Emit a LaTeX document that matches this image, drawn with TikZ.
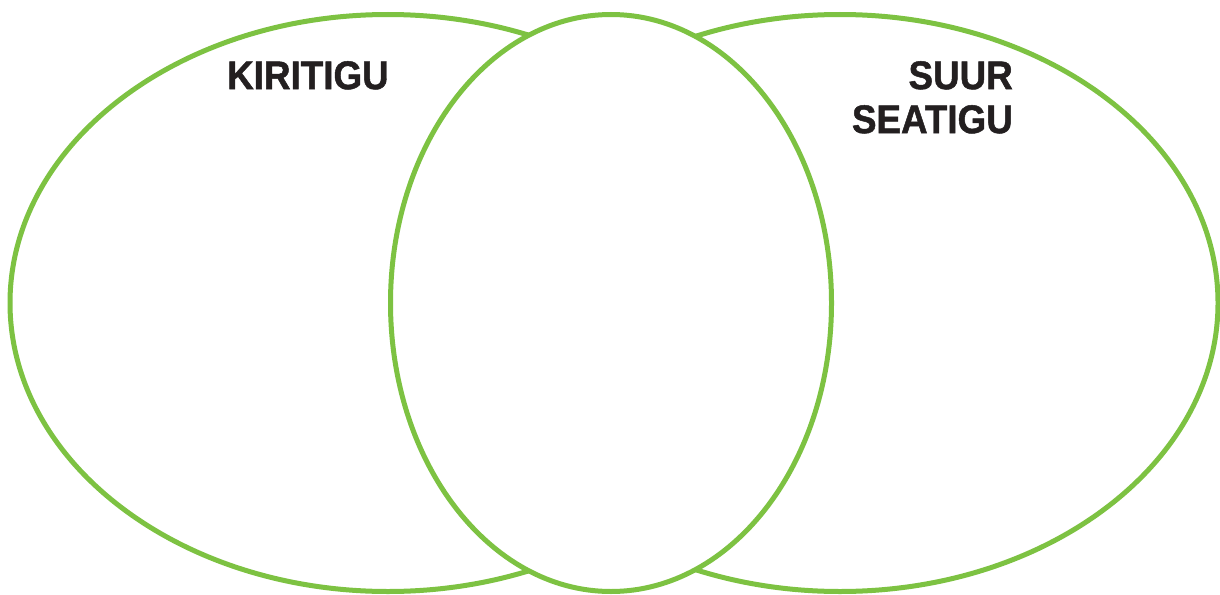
\documentclass[tikz,border=0pt]{standalone}
\usepackage{fontspec}
\setmainfont{Liberation Sans}[FakeStretch=0.92,BoldFeatures={FakeBold=1.2}]
\usetikzlibrary{shapes.geometric}
\definecolor{vgreen}{HTML}{7DC242}
\definecolor{vtext}{HTML}{231F20}
\tikzset{
  circ/.style={ellipse, draw=vgreen, line width=5pt, fill=white, inner sep=0pt, minimum height=577pt},
  lbl/.style={text=vtext, font=\fontsize{40}{44}\selectfont\bfseries, inner sep=0pt}
}
\begin{document}
\begin{tikzpicture}[x=1pt,y=-1pt]
\useasboundingbox (0,0) rectangle (1220,594);
\node[circ, minimum width=756pt] (left) at (388,303) {};
\node[circ, minimum width=756pt] (right) at (840,303) {};
\node[circ, minimum width=441pt] (mid) at (611,303) {};
\node[lbl, anchor=north west] (k) at (227,61) {KIRITIGU};
\node[lbl, anchor=north east, align=right] (s) at (1013,61) {SUUR\\SEATIGU};
\end{tikzpicture}
\end{document}
